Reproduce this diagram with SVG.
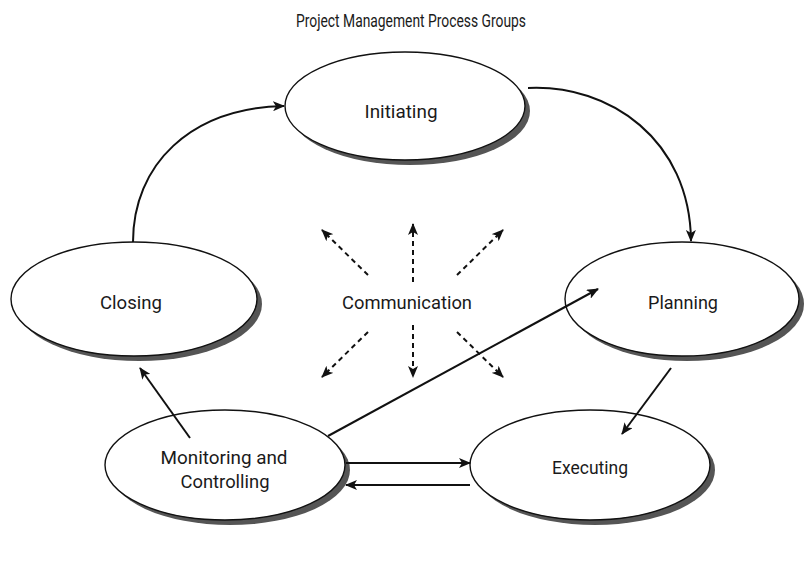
<svg xmlns="http://www.w3.org/2000/svg" width="804" height="565" viewBox="0 0 804 565">
<style>
text{font-family:Roboto,"Liberation Sans",sans-serif;font-size:19px;fill:#1a1a1a;text-anchor:middle}
.t{font-size:18px}
.sh{fill:#555;stroke:none}
.el{fill:#fff;stroke:#111;stroke-width:1.4}
.c{fill:none;stroke:#111;stroke-width:2}
.d{fill:none;stroke:#111;stroke-width:2;stroke-dasharray:5,4}
</style>
<defs>
<marker id="ah" viewBox="0 0 12 10" refX="11" refY="5" markerWidth="12" markerHeight="10" markerUnits="userSpaceOnUse" orient="auto">
<path d="M0,0 L12,5 L0,10 L3,5 Z" fill="#111"/>
</marker>
</defs>
<text class="t" x="411" y="27" textLength="230" lengthAdjust="spacingAndGlyphs">Project Management Process Groups</text>
<g id="initiating">
<ellipse class="sh" cx="410" cy="111" rx="120" ry="54"/>
<ellipse class="el" cx="405" cy="106" rx="120" ry="54"/>
<text x="401" y="118" textLength="73" lengthAdjust="spacingAndGlyphs">Initiating</text>
</g>
<g id="closing">
<ellipse class="sh" cx="139" cy="304" rx="123" ry="57"/>
<ellipse class="el" cx="134" cy="299" rx="123" ry="57"/>
<text x="131" y="309" textLength="62" lengthAdjust="spacingAndGlyphs">Closing</text>
</g>
<g id="planning">
<ellipse class="sh" cx="687" cy="304" rx="117" ry="57"/>
<ellipse class="el" cx="682" cy="299" rx="117" ry="57"/>
<text x="683" y="309" textLength="70" lengthAdjust="spacingAndGlyphs">Planning</text>
</g>
<g id="monitoring">
<ellipse class="sh" cx="230" cy="470" rx="120" ry="55"/>
<ellipse class="el" cx="225" cy="465" rx="120" ry="55"/>
<text x="224" y="464" textLength="127" lengthAdjust="spacingAndGlyphs">Monitoring and</text>
<text x="225" y="488" textLength="89" lengthAdjust="spacingAndGlyphs">Controlling</text>
</g>
<g id="executing">
<ellipse class="sh" cx="595" cy="470" rx="120" ry="55"/>
<ellipse class="el" cx="590" cy="465" rx="120" ry="55"/>
<text x="590" y="474" textLength="76" lengthAdjust="spacingAndGlyphs">Executing</text>
</g>
<g id="communication">
<text x="407" y="309" textLength="130" lengthAdjust="spacingAndGlyphs">Communication</text>
</g>
<g id="connectors">
<path class="c" d="M133,242 C133,165 190,108 284,106" marker-end="url(#ah)"/>
<path class="c" d="M528,88 C610,84 690,140 691,241" marker-end="url(#ah)"/>
<path class="c" d="M671,368 L622,434" marker-end="url(#ah)"/>
<path class="c" d="M190,438 L140,368" marker-end="url(#ah)"/>
<path class="c" d="M328,436 L598,289" marker-end="url(#ah)"/>
<path class="c" d="M346,463 L470,463" marker-end="url(#ah)"/>
<path class="c" d="M470,485 L346,485" marker-end="url(#ah)"/>
<path class="d" d="M413,282 L413,224" marker-end="url(#ah)"/>
<path class="d" d="M413,325 L413,377" marker-end="url(#ah)"/>
<path class="d" d="M368,275 L322,230" marker-end="url(#ah)"/>
<path class="d" d="M457,275 L503,230" marker-end="url(#ah)"/>
<path class="d" d="M368,332 L322,377" marker-end="url(#ah)"/>
<path class="d" d="M457,332 L503,377" marker-end="url(#ah)"/>
</g>
</svg>
